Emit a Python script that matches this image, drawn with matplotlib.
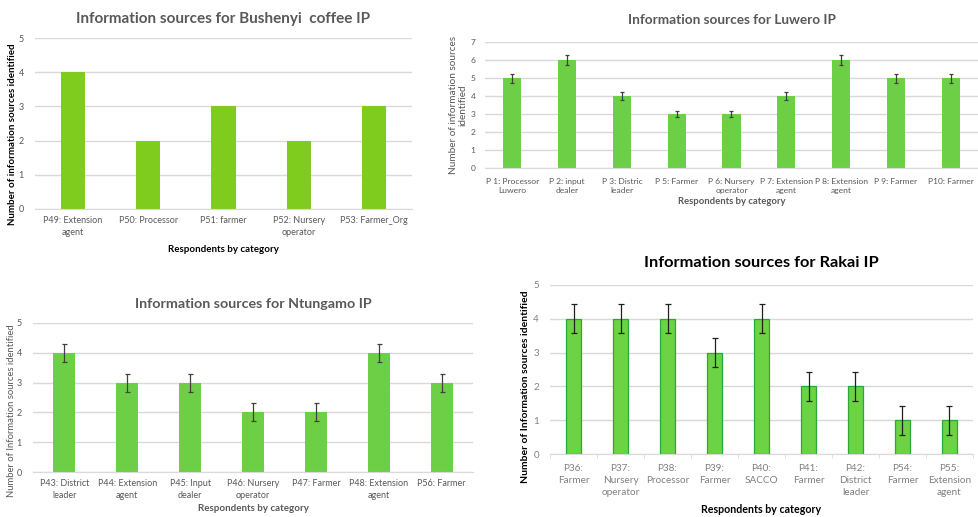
import numpy as np
import matplotlib.pyplot as plt

plt.rcParams['font.family'] = ['Lato', 'DejaVu Sans']

# Bushenyi
bush_labels = ['P49: Extension\nagent', 'P50: Processor', 'P51: farmer',
               'P52: Nursery\noperator', 'P53: Farmer_Org']
bush_vals = [4, 2, 3, 2, 3]

# Luwero
luw_labels = ['P 1: Processor\nLuwero', 'P 2: input\ndealer', 'P 3: Distric\nleader',
              'P 5: Farmer', 'P 6: Nursery\noperator', 'P 7: Extension\nagent',
              'P 8: Extension\nagent', 'P 9: Farmer', 'P10: Farmer']
luw_vals = [5, 6, 4, 3, 3, 4, 6, 5, 5]
luw_err = [0.25, 0.3, 0.2, 0.15, 0.15, 0.2, 0.3, 0.25, 0.25]

# Ntungamo
ntu_labels = ['P43: District\nleader', 'P44: Extension\nagent', 'P45: Input\ndealer',
              'P46: Nursery\noperator', 'P47: Farmer', 'P48: Extension\nagent', 'P56: Farmer']
ntu_vals = [4, 3, 3, 2, 2, 4, 3]
ntu_err = [0.3, 0.3, 0.3, 0.3, 0.3, 0.3, 0.3]

# Rakai
rak_labels = ['P36:\nFarmer', 'P37:\nNursery\noperator', 'P38:\nProcessor', 'P39:\nFarmer',
              'P40:\nSACCO', 'P41:\nFarmer', 'P42:\nDistrict\nleader', 'P54:\nFarmer',
              'P55:\nExtension\nagent']
rak_vals = [4, 4, 4, 3, 4, 2, 2, 1, 1]
rak_err = [0.43, 0.43, 0.43, 0.43, 0.43, 0.43, 0.43, 0.43, 0.43]

W, H = 979, 517
fig = plt.figure(figsize=(W / 100, H / 100), dpi=100)
grey = '#595959'
grid = '#d9d9d9'


def make_ax(left, right, top, bottom):
    ax = fig.add_axes([left / W, (H - bottom) / H, (right - left) / W, (bottom - top) / H])
    for s in ax.spines.values():
        s.set_visible(False)
    ax.spines['bottom'].set_visible(True)
    ax.spines['bottom'].set_color(grid)
    ax.yaxis.grid(True, color=grid, lw=1)
    ax.set_axisbelow(True)
    ax.tick_params(axis='y', length=0, labelsize=6.5, labelcolor=grey, pad=8)
    ax.tick_params(axis='x', length=0, labelsize=6.5, labelcolor=grey, pad=5)
    return ax


def spaced(ax, ls=1.4):
    for t in ax.get_xticklabels():
        t.set_linespacing(ls)


# panel 1
ax1 = make_ax(35, 412, 38, 209)
x = np.arange(len(bush_vals))
ax1.bar(x, bush_vals, width=0.32, color='#80cc1e')
ax1.set_xlim(-0.5, len(bush_vals) - 0.5)
ax1.set_ylim(0, 5)
ax1.set_xticks(x)
ax1.set_xticklabels(bush_labels)
spaced(ax1)
ax1.set_title('Information sources for Bushenyi  coffee IP', fontsize=11,
              fontweight='bold', color=grey, pad=10.5)
ax1.set_xlabel('Respondents by category', fontsize=7, fontweight='bold', color='black',
               labelpad=6)
ax1.set_ylabel('Number of information sources identified', fontsize=7,
               fontweight='bold', color='black')
ax1.yaxis.set_label_coords(-0.048, 0.44)

# panel 2
ax2 = make_ax(485, 978, 42, 168)
x = np.arange(len(luw_vals))
ax2.bar(x, luw_vals, width=0.33, color='#6dcf46')
ax2.errorbar(x, luw_vals, yerr=luw_err, fmt='none', ecolor='#404040', elinewidth=0.9,
             capsize=1.6, capthick=0.9)
ax2.set_xlim(-0.5, len(luw_vals) - 0.5)
ax2.set_ylim(0, 7)
ax2.set_xticks(x)
ax2.set_xticklabels(luw_labels, fontsize=6.1)
spaced(ax2)
ax2.tick_params(axis='y', labelsize=6, pad=7)
ax2.tick_params(axis='x', pad=7)
ax2.set_title('Information sources for Luwero IP', fontsize=9.8, fontweight='bold',
              color=grey, pad=13)
ax2.set_xlabel('Respondents by category', fontsize=6.8, fontweight='bold', color=grey,
               labelpad=2)
ax2.set_ylabel('Number of information sources\nidentified', fontsize=7.2, color=grey,
               linespacing=1.1)
ax2.yaxis.set_label_coords(-0.036, 0.5)

# panel 3
ax3 = make_ax(33, 473, 323, 472)
x = np.arange(len(ntu_vals))
ax3.bar(x, ntu_vals, width=0.35, color='#6dcf46')
ax3.errorbar(x, ntu_vals, yerr=ntu_err, fmt='none', ecolor='#404040', elinewidth=0.9,
             capsize=1.8, capthick=0.9)
ax3.set_xlim(-0.5, len(ntu_vals) - 0.5)
ax3.set_ylim(0, 5)
ax3.set_xticks(x)
ax3.set_xticklabels(ntu_labels)
spaced(ax3)
ax3.tick_params(axis='x', pad=5)
ax3.set_title('Information sources for Ntungamo IP', fontsize=10.3, fontweight='bold',
              color=grey, pad=11)
ax3.set_xlabel('Respondents by category', fontsize=7, fontweight='bold', color=grey,
               labelpad=3)
ax3.set_ylabel('Number of Information sources identified', fontsize=6.8, color=grey)
ax3.yaxis.set_label_coords(-0.038, 0.41)

# panel 4
ax4 = make_ax(550, 973, 285, 454)
x = np.arange(len(rak_vals))
ax4.bar(x, rak_vals, width=0.31, color='#6cd344', edgecolor='#2aa83a', linewidth=0.9)
ax4.errorbar(x, rak_vals, yerr=rak_err, fmt='none', ecolor='#202020', elinewidth=0.9,
             capsize=2.2, capthick=0.9)
ax4.set_xlim(-0.5, len(rak_vals) - 0.5)
ax4.set_ylim(0, 5)
ax4.set_xticks(x)
ax4.set_xticklabels(rak_labels, fontsize=7.2, color='#808080')
spaced(ax4, 1.45)
ax4.set_xticks(np.arange(len(rak_vals) + 1) - 0.5, minor=True)
ax4.tick_params(axis='x', which='minor', length=3, color=grid)
ax4.tick_params(axis='x', which='major', pad=7)
ax4.tick_params(axis='y', labelsize=7, labelcolor='#808080')
ax4.set_title('Information sources for Rakai IP', fontsize=11.8, fontweight='bold',
              color='black', pad=13)
ax4.set_xlabel('Respondents by category', fontsize=7.7, fontweight='bold', color='black',
               labelpad=5)
ax4.set_ylabel('Number of Information sources identified', fontsize=7.5,
               fontweight='bold', color='black')
ax4.yaxis.set_label_coords(-0.047, 0.40)

fig.savefig('out.png', dpi=100)
